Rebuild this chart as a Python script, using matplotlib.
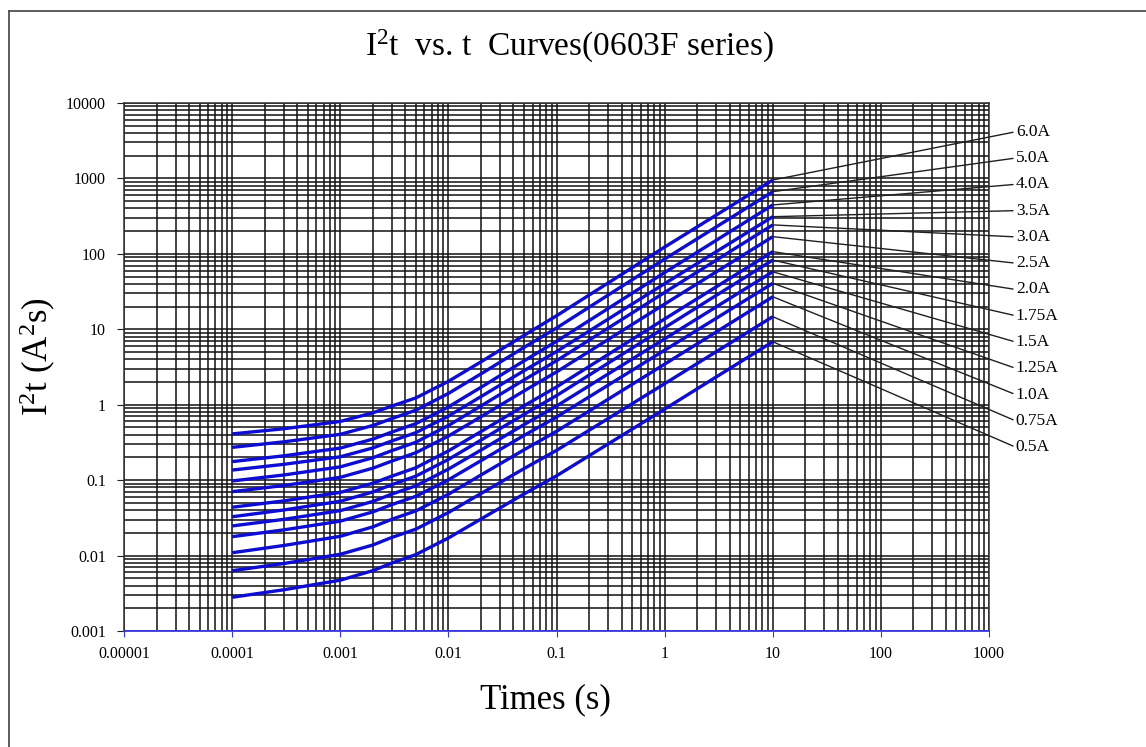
import numpy as np
import matplotlib.pyplot as plt

plt.rcParams['font.family'] = ['Liberation Serif', 'DejaVu Serif']
plt.rcParams['mathtext.fontset'] = 'custom'
plt.rcParams['mathtext.rm'] = 'Liberation Serif'
plt.rcParams['mathtext.it'] = 'Liberation Serif:italic'

# Data (time in s, I2t in A^2 s)
times = [1e-4, 3e-4, 1e-3, 2e-3, 3e-3, 5e-3, 1e-2, 2e-2, 5e-2, 0.1, 1, 10]

i2t_6_0 = [0.41, 0.48, 0.60, 0.78, 0.96, 1.23, 2.04, 3.7, 8.3, 15.1, 123, 953]
i2t_5_0 = [0.272, 0.322, 0.405, 0.530, 0.655, 0.846, 1.41, 2.56, 5.74, 10.4, 85.3, 667]
i2t_4_0 = [0.176, 0.210, 0.266, 0.350, 0.434, 0.561, 0.935, 1.70, 3.81, 6.92, 56.5, 445]
i2t_3_5 = [0.136, 0.162, 0.204, 0.267, 0.331, 0.426, 0.706, 1.28, 2.82, 5.07, 40.3, 311]
i2t_3_0 = [0.0975, 0.117, 0.150, 0.198, 0.246, 0.318, 0.530, 0.961, 2.13, 3.83, 30.8, 242]
i2t_2_5 = [0.0703, 0.0849, 0.109, 0.144, 0.179, 0.231, 0.384, 0.692, 1.52, 2.72, 21.6, 169]
i2t_2_0 = [0.0437, 0.0531, 0.0688, 0.0910, 0.113, 0.146, 0.244, 0.440, 0.966, 1.72, 13.7, 107]
i2t_1_75 = [0.0327, 0.0402, 0.0525, 0.0697, 0.0871, 0.113, 0.188, 0.339, 0.744, 1.32, 10.5, 82.8]
i2t_1_5 = [0.0247, 0.0302, 0.0394, 0.0522, 0.0653, 0.0841, 0.140, 0.250, 0.544, 0.960, 7.46, 57.9]
i2t_1_25 = [0.0178, 0.0219, 0.0286, 0.0379, 0.0474, 0.0611, 0.101, 0.181, 0.391, 0.686, 5.28, 40.7]
i2t_1_0 = [0.0109, 0.0136, 0.0180, 0.0240, 0.0303, 0.0391, 0.0650, 0.117, 0.252, 0.444, 3.45, 27.0]
i2t_0_75 = [0.0063, 0.00785, 0.0104, 0.0138, 0.0174, 0.0224, 0.0372, 0.0664, 0.142, 0.248, 1.90, 14.7]
i2t_0_5 = [0.0028, 0.00352, 0.00472, 0.00631, 0.00796, 0.0103, 0.0171, 0.0305, 0.0655, 0.114, 0.875, 6.84]

currents = ['6.0A', '5.0A', '4.0A', '3.5A', '3.0A', '2.5A', '2.0A',
            '1.75A', '1.5A', '1.25A', '1.0A', '0.75A', '0.5A']
curves = [i2t_6_0, i2t_5_0, i2t_4_0, i2t_3_5, i2t_3_0, i2t_2_5, i2t_2_0,
          i2t_1_75, i2t_1_5, i2t_1_25, i2t_1_0, i2t_0_75, i2t_0_5]

x_ticks = [1e-5, 1e-4, 1e-3, 1e-2, 1e-1, 1, 10, 100, 1000]
x_tick_labels = ['0.00001', '0.0001', '0.001', '0.01', '0.1', '1', '10', '100', '1000']
y_ticks = [1e-3, 1e-2, 1e-1, 1, 10, 100, 1000, 10000]
y_tick_labels = ['0.001', '0.01', '0.1', '1', '10', '100', '1000', '10000']

fig = plt.figure(figsize=(11.46, 7.47), dpi=100)
ax = fig.add_axes([124 / 1146, 116 / 747, 865 / 1146, 528 / 747])

ax.set_xscale('log')
ax.set_yscale('log')
ax.set_xlim(1e-5, 1000)
ax.set_ylim(1e-3, 10000)

ax.grid(True, which='both', color='#111111', linewidth=1.1)
ax.set_axisbelow(True)

for vals in curves:
    ax.plot(times, vals, color='#0c0cd2', linewidth=2.4, solid_capstyle='butt')

# leader lines and current labels
for i, (name, vals) in enumerate(zip(currents, curves)):
    y_frac = 0.9456 - i * 0.0498
    ax.annotate(name, xy=(times[-1], vals[-1]), xycoords='data',
                xytext=(1.031, y_frac), textcoords='axes fraction',
                ha='left', va='center', fontsize=12.5,
                arrowprops=dict(arrowstyle='-', color='#202020', lw=1.0,
                                shrinkA=0, shrinkB=0, relpos=(0, 0.5)),
                annotation_clip=False)

ax.set_xticks(x_ticks)
ax.set_xticklabels(x_tick_labels)
ax.set_yticks(y_ticks)
ax.set_yticklabels(y_tick_labels)
ax.tick_params(which='minor', length=0)
ax.tick_params(axis='x', which='major', length=4, color='#3a3ae0', pad=7, labelsize=11.5)
ax.tick_params(axis='y', which='major', length=5, color='#202020', pad=8, labelsize=11.5)

for side in ['left', 'top', 'right']:
    ax.spines[side].set_color('#303030')
    ax.spines[side].set_linewidth(1.1)
ax.spines['bottom'].set_color('#3a3ae0')
ax.spines['bottom'].set_linewidth(1.3)

fig.text(0.497, 0.938, 'I$^2$t  vs. t  Curves(0603F series)', ha='center', va='center',
         fontsize=24)
ax.set_xlabel('Times (s)', fontsize=25)
ax.xaxis.set_label_coords(0.487, -0.1)
ax.set_ylabel('I$^2$t (A$^2$s)', fontsize=25)
ax.yaxis.set_label_coords(-0.076, 0.52)

# outer frame (cut off at right and bottom)
fig.add_artist(plt.Line2D([9 / 1146, 9 / 1146], [0, 1 - 11 / 747], transform=fig.transFigure,
                          color='#505050', linewidth=1.3))
fig.add_artist(plt.Line2D([9 / 1146, 1], [1 - 11 / 747, 1 - 11 / 747], transform=fig.transFigure,
                          color='#505050', linewidth=1.3))

fig.savefig('out.png', dpi=100)
